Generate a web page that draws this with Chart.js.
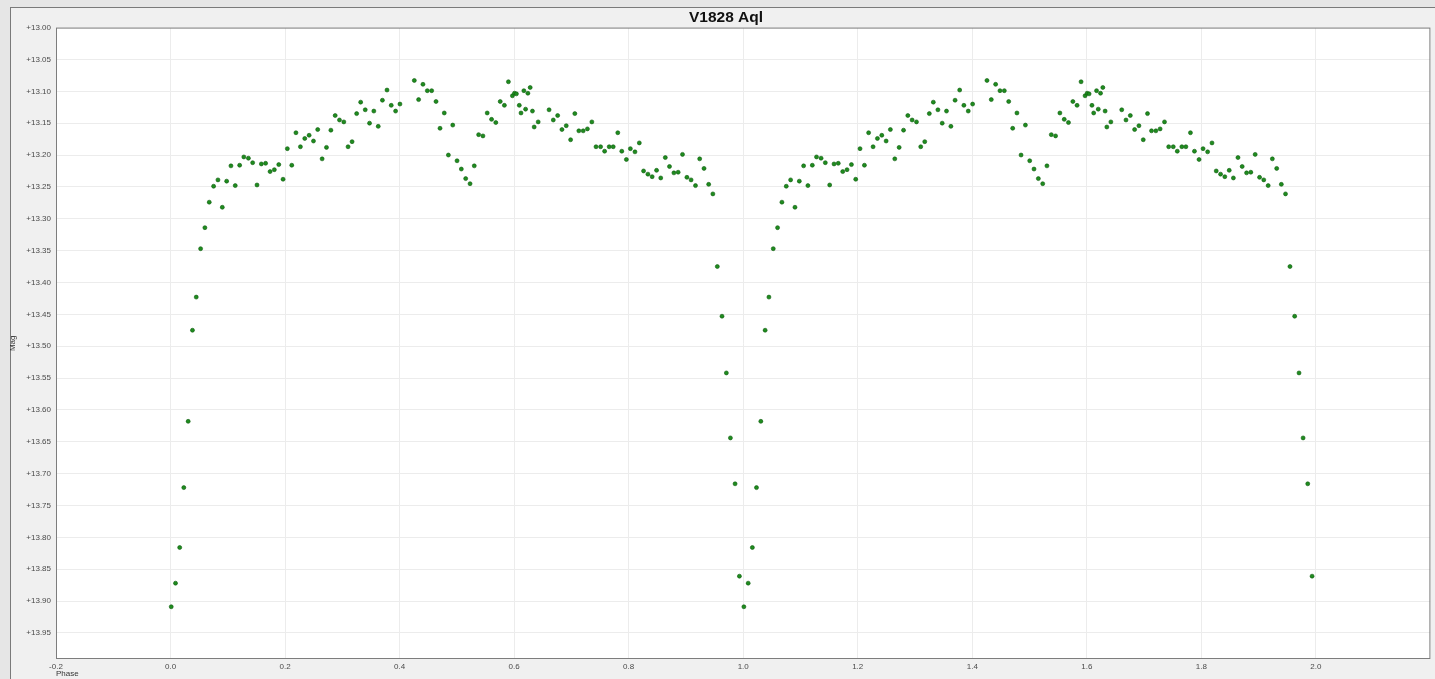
<!DOCTYPE html>
<html>
<head>
<meta charset="utf-8">
<title>V1828 Aql</title>
<script src="https://cdn.jsdelivr.net/npm/chart.js@4.4.1/dist/chart.umd.min.js"></script>
<style>
  html, body { margin: 0; padding: 0; background: #e6e6e6; overflow: hidden; }
  #panel {
    position: absolute; left: 10px; top: 7px; right: 0; bottom: 0;
    background: #f0f0f0;
    border-left: 1px solid #7a7a7a; border-top: 1px solid #7a7a7a;
  }
  #wrap { position: absolute; left: 0; top: 0; width: 1435px; height: 679px; }
</style>
</head>
<body>
<div id="panel"></div>
<div id="wrap"><canvas id="lightCurve" width="1435" height="679"></canvas></div>
<script>
// phase folded light curve, one cycle (shown twice: phase and phase + 1)
const phase = [
  0.0012, 0.0087, 0.0160, 0.0232, 0.0308, 0.0383, 0.0449, 0.0525, 0.0600, 0.0676,
  0.0752, 0.0828, 0.0904, 0.0980, 0.1055, 0.1130, 0.1207, 0.1280, 0.1360, 0.1434,
  0.1510, 0.1586, 0.1660, 0.1738, 0.1813, 0.1890, 0.1965, 0.2040, 0.2117, 0.2190,
  0.2268, 0.2344, 0.2420, 0.2496, 0.2570, 0.2647, 0.2723, 0.2800, 0.2875, 0.2950,
  0.3026, 0.3100, 0.3170, 0.3250, 0.3320, 0.3400, 0.3475, 0.3550, 0.3627, 0.3700,
  0.3780, 0.3854, 0.3930, 0.4006, 0.4257, 0.4332, 0.4408, 0.4484, 0.4560, 0.4636,
  0.4706, 0.4780, 0.4852, 0.4928, 0.5003, 0.5078, 0.5154, 0.5230, 0.5304, 0.5380,
  0.5455, 0.5530, 0.5606, 0.5680, 0.5757, 0.5830, 0.5900, 0.5970, 0.6006, 0.6040,
  0.6090, 0.6120, 0.6170, 0.6200, 0.6240, 0.6280, 0.6320, 0.6350, 0.6420, 0.6610,
  0.6684, 0.6760, 0.6835, 0.6910, 0.6986, 0.7060, 0.7130, 0.7206, 0.7280, 0.7357,
  0.7430, 0.7510, 0.7580, 0.7660, 0.7730, 0.7810, 0.7880, 0.7960, 0.8030, 0.8110,
  0.8186, 0.8260, 0.8336, 0.8410, 0.8487, 0.8560, 0.8640, 0.8713, 0.8790, 0.8864,
  0.8940, 0.9017, 0.9090, 0.9167, 0.9240, 0.9316, 0.9397, 0.9470, 0.9548, 0.9630,
  0.9706, 0.9777, 0.9858, 0.9934
];
const mag = [
  13.909, 13.872, 13.816, 13.722, 13.618, 13.475, 13.423, 13.347, 13.314, 13.274,
  13.249, 13.239, 13.282, 13.241, 13.217, 13.248, 13.216, 13.203, 13.205, 13.212,
  13.247, 13.214, 13.213, 13.226, 13.223, 13.215, 13.238, 13.190, 13.216, 13.165,
  13.187, 13.174, 13.169, 13.178, 13.160, 13.206, 13.188, 13.161, 13.138, 13.145,
  13.148, 13.187, 13.179, 13.135, 13.117, 13.129, 13.150, 13.131, 13.155, 13.114,
  13.098, 13.122, 13.131, 13.120, 13.083, 13.113, 13.089, 13.099, 13.099, 13.116,
  13.158, 13.134, 13.200, 13.153, 13.209, 13.222, 13.237, 13.245, 13.217, 13.168,
  13.170, 13.134, 13.144, 13.149, 13.116, 13.122, 13.085, 13.107, 13.103, 13.104,
  13.122, 13.134, 13.099, 13.128, 13.103, 13.094, 13.131, 13.156, 13.148, 13.129,
  13.145, 13.138, 13.160, 13.154, 13.176, 13.135, 13.162, 13.162, 13.159, 13.148,
  13.187, 13.187, 13.194, 13.187, 13.187, 13.165, 13.194, 13.207, 13.190, 13.195,
  13.181, 13.225, 13.230, 13.234, 13.224, 13.236, 13.204, 13.218, 13.228, 13.227,
  13.199, 13.235, 13.239, 13.248, 13.206, 13.221, 13.246, 13.261, 13.375, 13.453,
  13.542, 13.644, 13.716, 13.861
];
const cycles = [0, 1];
const xTicks = [-0.2, 0.0, 0.2, 0.4, 0.6, 0.8, 1.0, 1.2, 1.4, 1.6, 1.8, 2.0];
const yTicks = [13.00, 13.05, 13.10, 13.15, 13.20, 13.25, 13.30, 13.35, 13.40, 13.45,
  13.50, 13.55, 13.60, 13.65, 13.70, 13.75, 13.80, 13.85, 13.90, 13.95];

const FONT = "'Liberation Sans', Arial, sans-serif";

function buildPoints() {
  const pts = [];
  cycles.forEach(c => {
    for (let i = 0; i < phase.length; i++) {
      pts.push({ x: phase[i] + c, y: mag[i] });
    }
  });
  return pts;
}

// white plot area + dark frame like the original software
const plotFrame = {
  id: "plotFrame",
  beforeDraw(chart) {
    const a = chart.chartArea, c = chart.ctx;
    c.save();
    c.fillStyle = "#ffffff";
    c.fillRect(a.left, a.top, a.right - a.left, a.bottom - a.top);
    c.restore();
  },
  afterDraw(chart) {
    const a = chart.chartArea, c = chart.ctx;
    c.save();
    c.strokeStyle = "#7d7d7d";
    c.lineWidth = 1;
    c.strokeRect(a.left + 0.5, a.top + 0.5, a.right - a.left - 1, a.bottom - a.top - 1);
    c.restore();
  }
};

function setup() {
  const ctx = document.getElementById("lightCurve").getContext("2d");
  new Chart(ctx, {
    type: "scatter",
    data: {
      datasets: [{
        label: "V1828 Aql",
        data: buildPoints(),
        backgroundColor: "#1f8c1f",
        borderColor: "#0e5a0e",
        borderWidth: 0.6,
        pointRadius: 2.0
      }]
    },
    options: {
      responsive: false,
      animation: false,
      events: [],
      layout: { padding: { left: 20, right: 3, top: 0, bottom: 0 } },
      plugins: {
        legend: { display: false },
        tooltip: { enabled: false },
        title: {
          display: true,
          text: "V1828 Aql",
          color: "#111",
          font: { family: FONT, size: 15.5, weight: "bold" },
          padding: { top: 8, bottom: 1 }
        }
      },
      scales: {
        x: {
          type: "linear",
          min: -0.2,
          max: 2.2,
          afterBuildTicks: s => { s.ticks = xTicks.map(v => ({ value: v })); },
          afterFit: s => { s.height = 20; },
          grid: { color: "#ececec", drawTicks: false },
          border: { display: false },
          ticks: {
            padding: 3,
            color: "#4a4a4a",
            font: { family: FONT, size: 8 },
            maxRotation: 0,
            callback: v => Number(v).toFixed(1)
          },
          title: {
            display: true,
            text: "Phase",
            align: "start",
            color: "#333",
            font: { family: FONT, size: 8 },
            padding: { top: 0, bottom: 0 }
          }
        },
        y: {
          type: "linear",
          reverse: true,
          min: 13.0,
          max: 13.991,
          afterBuildTicks: s => { s.ticks = yTicks.map(v => ({ value: v })); },
          afterFit: s => { s.width = 36; },
          grid: { color: "#ececec", drawTicks: false },
          border: { display: false },
          ticks: {
            padding: 5,
            color: "#4a4a4a",
            font: { family: FONT, size: 8 },
            callback: v => "+" + Number(v).toFixed(2)
          },
          title: {
            display: true,
            text: "Mag",
            color: "#333",
            font: { family: FONT, size: 8 },
            padding: { top: -12, bottom: 0 }
          }
        }
      }
    },
    plugins: [plotFrame]
  });
}

window.onload = setup;
</script>
</body>
</html>
